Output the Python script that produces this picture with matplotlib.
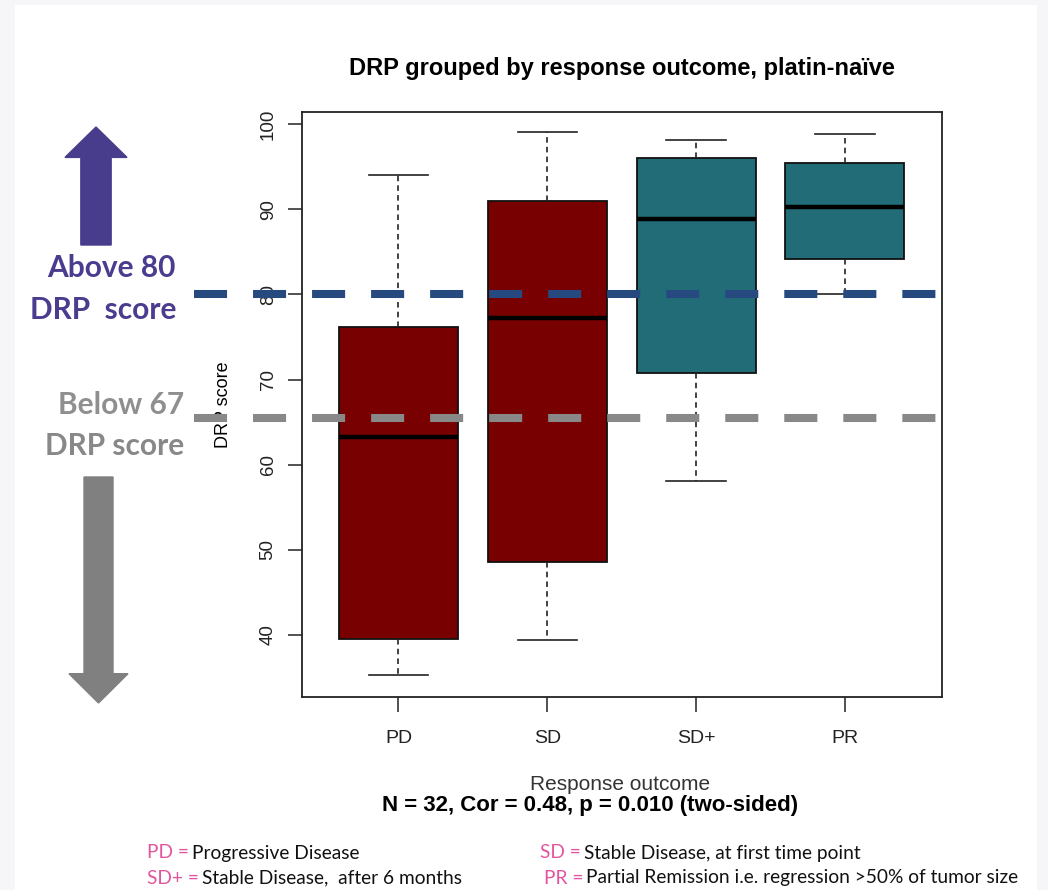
import numpy as np
import matplotlib
matplotlib.use("Agg")
import matplotlib.pyplot as plt
from matplotlib.patches import FancyArrow, Rectangle

plt.rcParams['lines.scale_dashes'] = False

# Box statistics (DRP score)
groups = ['PD', 'SD', 'SD+', 'PR']
whis_lo = [35.3, 39.4, 58.1, 80.0]
q1 = [39.5, 48.6, 70.8, 84.2]
medians = [63.3, 77.2, 88.9, 90.3]
q3 = [76.2, 90.9, 96.0, 95.4]
whis_hi = [94.0, 99.0, 98.1, 98.8]
box_colors = ['#780000', '#780000', '#216c76', '#216c76']

above_cut = 80.0
below_cut = 65.45

legend_rows = [
    ('PD = ', 'Progressive Disease', 'SD = ', 'Stable Disease, at first time point'),
    ('SD+ = ', 'Stable Disease,  after 6 months', 'PR = ', 'Partial Remission i.e. regression >50% of tumor size'),
]

W, H = 1048, 890
fig = plt.figure(figsize=(W / 100, H / 100), dpi=100, facecolor='#f6f6f9')
fig.patches.append(Rectangle((15 / W, 0), (1037 - 15) / W, (H - 5) / H,
                             transform=fig.transFigure, facecolor='white',
                             edgecolor='none', zorder=-5))

ax = fig.add_axes([301.7 / W, 1 - 696.7 / H, 640 / W, 584.4 / H])
ax.set_zorder(1)

stats = []
for i, g in enumerate(groups):
    stats.append(dict(label=g, whislo=whis_lo[i], q1=q1[i], med=medians[i],
                      q3=q3[i], whishi=whis_hi[i], fliers=[]))

bp = ax.bxp(stats, positions=np.arange(1, 5), widths=0.8, capwidths=0.4,
            patch_artist=True, showfliers=False,
            boxprops=dict(edgecolor='#111111', linewidth=1.3),
            medianprops=dict(color='black', linewidth=3.2, solid_capstyle='butt'),
            whiskerprops=dict(color='#222222', linewidth=1.2, linestyle=(0, (4, 3))),
            capprops=dict(color='#222222', linewidth=1.2))
for patch, c in zip(bp['boxes'], box_colors):
    patch.set_facecolor(c)

ax.set_xlim(0.35, 4.65)
ax.set_ylim(32.76, 101.37)
ax.set_yticks([40, 50, 60, 70, 80, 90, 100])
ax.set_xticks(np.arange(1, 5))
ax.set_xticklabels(groups, fontsize=14, family='Liberation Sans', color='#222222')
for lab in ax.get_yticklabels():
    lab.set_rotation(90)
    lab.set_va('center')
    lab.set_fontsize(13.5)
    lab.set_family('Liberation Sans')
    lab.set_color('#222222')
ax.tick_params(axis='y', length=10, width=1.1, pad=8, color='#222222')
ax.tick_params(axis='x', length=11, width=1.1, pad=13, color='#222222')
for s in ax.spines.values():
    s.set_linewidth(1.3)
    s.set_color('#222222')

ax.set_ylabel('DRP score', fontsize=13, family='Liberation Sans', labelpad=20)

# threshold lines, reaching into the left margin
x_line = [1 + (193.5 - 398.3) / 148.9, 1 + (937 - 398.3) / 148.9]
ax.plot(x_line, [above_cut, above_cut], color='#264a80', linewidth=5.8,
        dashes=(23.8, 18.7), solid_capstyle='butt', clip_on=False, zorder=5)
ax.plot(x_line, [below_cut, below_cut], color='#888888', linewidth=5.8,
        dashes=(23.8, 18.7), solid_capstyle='butt', clip_on=False, zorder=5)

ax.set_title('DRP grouped by response outcome, platin-naïve', fontsize=17,
             fontweight='bold', family='Liberation Sans', pad=27)

# arrows on the left (pixel positions -> inches)
def px(x, y):
    return x / 100, (H - y) / 100

x0, y0 = px(96, 245)
fig.patches.append(FancyArrow(x0, y0, 0, (245 - 127) / 100, width=0.303,
                              head_width=0.62, head_length=0.304,
                              length_includes_head=True, color='#483c8c',
                              transform=fig.dpi_scale_trans))
x0, y0 = px(98.5, 477)
fig.patches.append(FancyArrow(x0, y0, 0, -(703 - 477) / 100, width=0.29,
                              head_width=0.59, head_length=0.293,
                              length_includes_head=True, color='#808080',
                              transform=fig.dpi_scale_trans))

left_font = dict(family=['Lato', 'DejaVu Sans'], fontweight='bold', fontsize=21.5,
                 ha='right', va='center')
fig.text(176 / W, 1 - 268 / H, 'Above 80', color='#4b3c8f', **left_font)
fig.text(176 / W, 1 - 310 / H, 'DRP  score', color='#4b3c8f', **left_font)
fig.text(184 / W, 1 - 405 / H, 'Below 67', color='#8f8f8f', **left_font)
fig.text(184 / W, 1 - 446 / H, 'DRP score', color='#888888', **left_font)

fig.text(620 / W, 1 - 785 / H, 'Response outcome', fontsize=15,
         family='Liberation Sans', color='#333333', ha='center', va='center')
fig.text(590 / W, 1 - 805 / H, 'N = 32, Cor = 0.48, p = 0.010 (two-sided)',
         fontsize=16, fontweight='bold', family='Liberation Sans',
         ha='center', va='center')

# footnote legend: pink abbreviation, black description
pink = '#e3559e'
row_y = [853, 878]
col_x = [(147, 540), (147, 544)]
foot = dict(family=['Lato', 'DejaVu Sans'], fontsize=13.8, va='center')
fig.canvas.draw()
renderer = fig.canvas.get_renderer()
for (a1, d1, a2, d2), yy, (xa, xb) in zip(legend_rows, row_y, col_x):
    for abbr, desc, xx in ((a1, d1, xa), (a2, d2, xb)):
        t = fig.text(xx / W, 1 - yy / H, abbr, color=pink, **foot)
        bb = t.get_window_extent(renderer)
        fig.text((bb.x1 - 2) / W, 1 - yy / H, desc, color='#111111', **foot)

fig.savefig('out.png', dpi=100, facecolor=fig.get_facecolor())
